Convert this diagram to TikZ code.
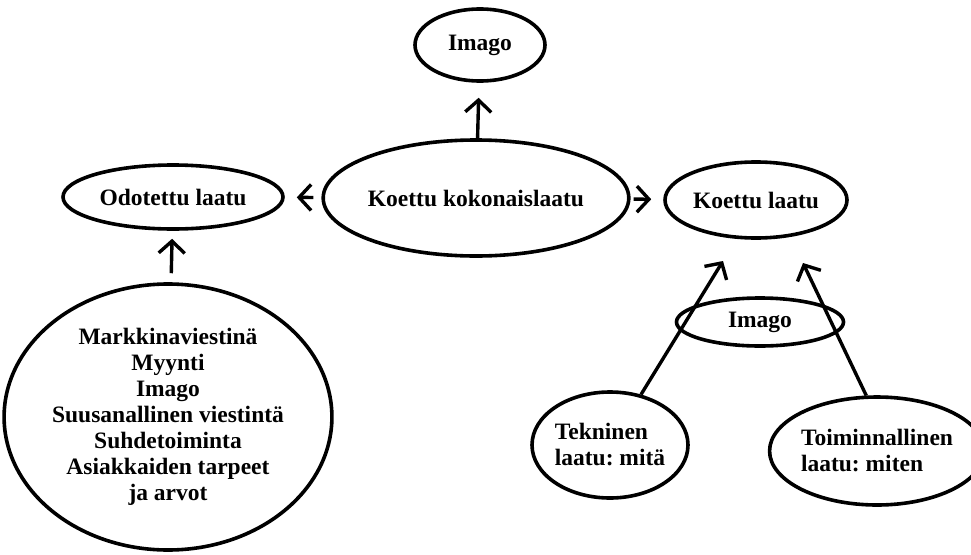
\documentclass[tikz,border=0pt]{standalone}
\usepackage{fontspec}
\setmainfont{Liberation Serif}
\usetikzlibrary{shapes.geometric,arrows.meta}
\frenchspacing
\begin{document}
\begin{tikzpicture}[x=1pt,y=-1pt,
  oval/.style={ellipse,draw,line width=3.6pt,inner sep=0pt,
    font=\fontsize{23.5}{26}\selectfont\bfseries},
  arr/.style={line width=3.4pt,-{Straight Barb[length=12pt,width=26pt]}}]
\useasboundingbox (0,0) rectangle (971,554);
\node[oval,minimum width=130pt,minimum height=72pt] (imagotop) at (480,45) {Imago};
\node[oval,minimum width=272pt,minimum height=116pt] (center) at (476,198) {Koettu kokonaislaatu};
\node[oval,minimum width=220pt,minimum height=64pt] (odot) at (173,197) {Odotettu laatu};
\node[oval,minimum width=182pt,minimum height=76pt] (koettu) at (756,200) {Koettu laatu};
\node[oval,minimum width=306pt,minimum height=266pt,align=center] (big) at (168,417)
  {Markkinaviestinä\\Myynti\\Imago\\Suusanallinen viestintä\\Suhdetoiminta\\Asiakkaiden tarpeet\\ja arvot};
\node[oval,minimum width=167pt,minimum height=48pt] (imagosmall) at (760,322) {Imago};
\node[oval,minimum width=154pt,minimum height=106pt,align=left] (tek) at (610,445) {Tekninen\\laatu: mitä};
\node[oval,minimum width=188pt,minimum height=108pt,align=left] (toim) at (877,451) {Toiminnallinen\\laatu: miten};
\coordinate (t1) at (723,261);
\coordinate (t2) at (803,263);
\draw[arr,shorten >=15pt] (center) -- (imagotop);
\draw[arr,shorten <=8pt,shorten >=12pt] (center) -- (odot);
\draw[arr,shorten <=3pt,shorten >=12pt] (center) -- (koettu);
\draw[arr,shorten <=9pt,shorten >=8pt] (big) -- (odot);
\draw[arr] (tek) -- (t1);
\draw[arr] (toim.101) -- (t2);
\end{tikzpicture}
\end{document}
